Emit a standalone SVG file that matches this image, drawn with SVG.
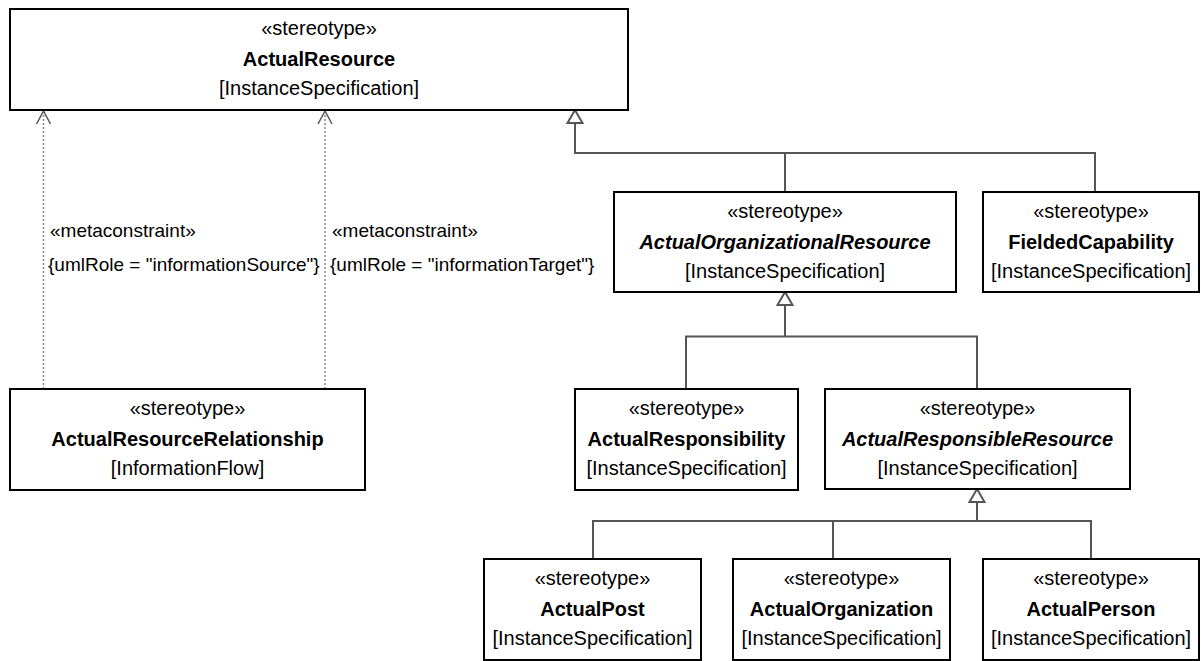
<svg xmlns="http://www.w3.org/2000/svg" width="1201" height="661" viewBox="0 0 1201 661">
<style>
.box{fill:#fff;stroke:#000;stroke-width:2}
text{font-family:"Liberation Sans",Arial,sans-serif;font-size:20px;fill:#000}
.c{text-anchor:middle}
.b{font-weight:bold}
.i{font-style:italic}
.lbl{font-size:19px}
.gen{fill:none;stroke:#555;stroke-width:2}
.tri{fill:#fff;stroke:#555;stroke-width:2;stroke-linejoin:miter}
.dep{fill:none;stroke:#888;stroke-width:1.5;stroke-dasharray:2,2}
.open{fill:none;stroke:#555;stroke-width:1.5}
</style>
<g id="connectors">
<line class="dep" x1="43.5" y1="389" x2="43.5" y2="112"/>
<polyline class="open" points="36.5,124 43.5,111 50.5,124"/>
<line class="dep" x1="325" y1="389" x2="325" y2="112"/>
<polyline class="open" points="318,124 325,111 332,124"/>
<text class="lbl" x="50" y="237">«metaconstraint»</text>
<text class="lbl" x="48" y="271">{umlRole = "informationSource"}</text>
<text class="lbl" x="332" y="237">«metaconstraint»</text>
<text class="lbl" x="330" y="271">{umlRole = "informationTarget"}</text>
<path class="gen" d="M575,123 V153 H1095 V192 M785,153 V192"/>
<polygon class="tri" points="575,110 567.5,123 582.5,123"/>
<path class="gen" d="M785,305 V336.5 H686 V389 M785,336.5 H977 V389"/>
<polygon class="tri" points="785,292 777.5,305 792.5,305"/>
<path class="gen" d="M977,502 V521 H593 V559 M977,521 H1091 V559 M833,521 V559"/>
<polygon class="tri" points="977,489 969.5,502 984.5,502"/>
</g>
<g id="ActualResource">
<rect class="box" x="10" y="9" width="618" height="101"/>
<text class="c" x="319" y="35">«stereotype»</text>
<text class="c b" x="319" y="66">ActualResource</text>
<text class="c" x="319" y="95">[InstanceSpecification]</text>
</g>
<g id="ActualResourceRelationship">
<rect class="box" x="10" y="389" width="355" height="101"/>
<text class="c" x="187.5" y="415">«stereotype»</text>
<text class="c b" x="187.5" y="446">ActualResourceRelationship</text>
<text class="c" x="187.5" y="475">[InformationFlow]</text>
</g>
<g id="ActualOrganizationalResource">
<rect class="box" x="614" y="192" width="342" height="100"/>
<text class="c" x="785" y="218">«stereotype»</text>
<text class="c b i" x="785" y="249">ActualOrganizationalResource</text>
<text class="c" x="785" y="278">[InstanceSpecification]</text>
</g>
<g id="FieldedCapability">
<rect class="box" x="983" y="192" width="216" height="100"/>
<text class="c" x="1091" y="218">«stereotype»</text>
<text class="c b" x="1091" y="249">FieldedCapability</text>
<text class="c" x="1091" y="278">[InstanceSpecification]</text>
</g>
<g id="ActualResponsibility">
<rect class="box" x="575" y="389" width="223" height="101"/>
<text class="c" x="686.5" y="415">«stereotype»</text>
<text class="c b" x="686.5" y="446">ActualResponsibility</text>
<text class="c" x="686.5" y="475">[InstanceSpecification]</text>
</g>
<g id="ActualResponsibleResource">
<rect class="box" x="825" y="389" width="305" height="100"/>
<text class="c" x="977.5" y="415">«stereotype»</text>
<text class="c b i" x="977.5" y="446">ActualResponsibleResource</text>
<text class="c" x="977.5" y="475">[InstanceSpecification]</text>
</g>
<g id="ActualPost">
<rect class="box" x="484" y="559" width="217" height="101"/>
<text class="c" x="592.5" y="585">«stereotype»</text>
<text class="c b" x="592.5" y="616">ActualPost</text>
<text class="c" x="592.5" y="645">[InstanceSpecification]</text>
</g>
<g id="ActualOrganization">
<rect class="box" x="733" y="559" width="217" height="101"/>
<text class="c" x="841.5" y="585">«stereotype»</text>
<text class="c b" x="841.5" y="616">ActualOrganization</text>
<text class="c" x="841.5" y="645">[InstanceSpecification]</text>
</g>
<g id="ActualPerson">
<rect class="box" x="983" y="559" width="216" height="101"/>
<text class="c" x="1091" y="585">«stereotype»</text>
<text class="c b" x="1091" y="616">ActualPerson</text>
<text class="c" x="1091" y="645">[InstanceSpecification]</text>
</g>
</svg>
